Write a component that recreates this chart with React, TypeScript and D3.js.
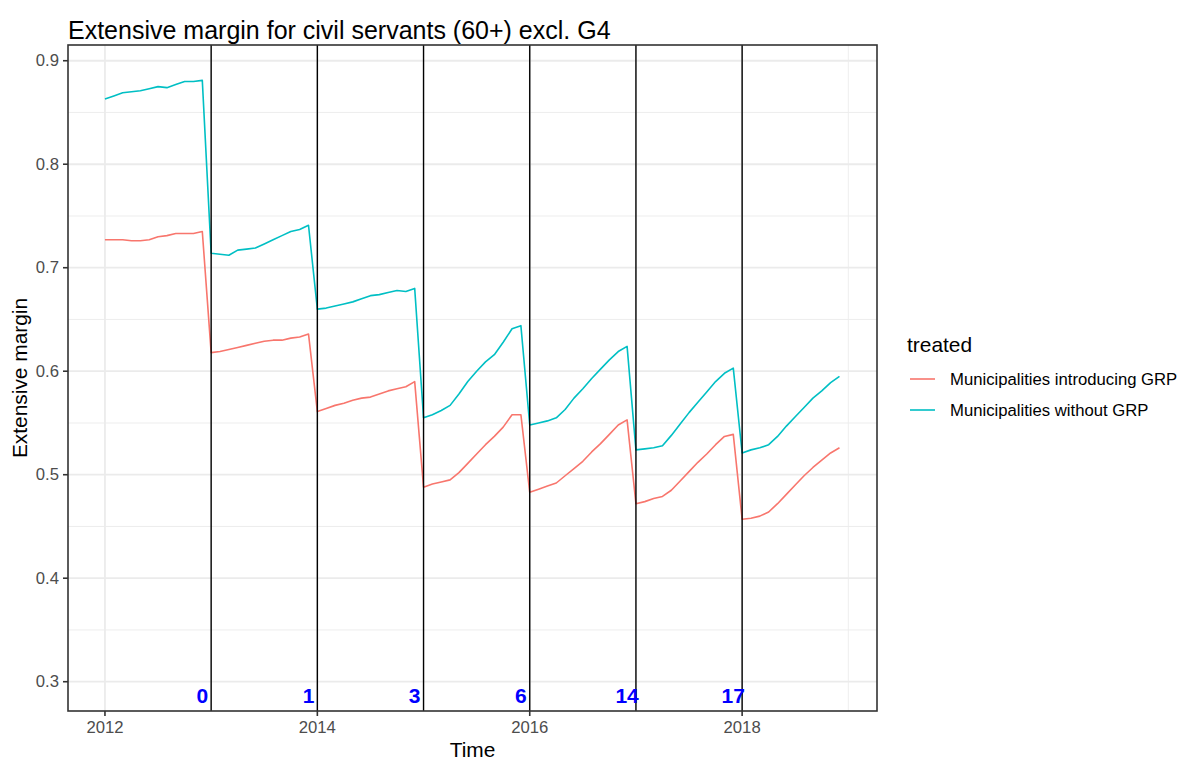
import React from "react";
import * as d3 from "d3";

const years = [2012, 2013, 2014, 2015, 2016, 2017, 2018];
const seriesNames = ["Municipalities introducing GRP", "Municipalities without GRP"];
const seriesColors = ["#F8766D", "#00BFC4"];

// monthly values, Jan..Dec per year
const introducing = [
  [0.727, 0.727, 0.727, 0.726, 0.726, 0.727, 0.730, 0.731, 0.733, 0.733, 0.733, 0.735],
  [0.618, 0.619, 0.621, 0.623, 0.625, 0.627, 0.629, 0.630, 0.630, 0.632, 0.633, 0.636],
  [0.561, 0.564, 0.567, 0.569, 0.572, 0.574, 0.575, 0.578, 0.581, 0.583, 0.585, 0.590],
  [0.488, 0.491, 0.493, 0.495, 0.502, 0.511, 0.520, 0.529, 0.537, 0.546, 0.558, 0.558],
  [0.483, 0.486, 0.489, 0.492, 0.499, 0.506, 0.513, 0.522, 0.530, 0.539, 0.548, 0.553],
  [0.472, 0.474, 0.477, 0.479, 0.485, 0.494, 0.503, 0.512, 0.520, 0.529, 0.537, 0.539],
  [0.457, 0.458, 0.460, 0.464, 0.472, 0.481, 0.490, 0.499, 0.507, 0.514, 0.521, 0.526],
];
const without = [
  [0.863, 0.866, 0.869, 0.870, 0.871, 0.873, 0.875, 0.874, 0.877, 0.880, 0.880, 0.881],
  [0.714, 0.713, 0.712, 0.717, 0.718, 0.719, 0.723, 0.727, 0.731, 0.735, 0.737, 0.741],
  [0.660, 0.661, 0.663, 0.665, 0.667, 0.670, 0.673, 0.674, 0.676, 0.678, 0.677, 0.680],
  [0.555, 0.558, 0.562, 0.567, 0.578, 0.590, 0.600, 0.609, 0.616, 0.628, 0.641, 0.644],
  [0.548, 0.550, 0.552, 0.555, 0.563, 0.574, 0.583, 0.593, 0.602, 0.611, 0.619, 0.624],
  [0.524, 0.525, 0.526, 0.528, 0.538, 0.549, 0.560, 0.570, 0.580, 0.590, 0.598, 0.603],
  [0.521, 0.524, 0.526, 0.529, 0.537, 0.547, 0.556, 0.565, 0.574, 0.581, 0.589, 0.595],
];

const vlineYears = [2013, 2014, 2015, 2016, 2017, 2018];
const vlineLabels = ["0", "1", "3", "6", "14", "17"];
const labelY = 0.287;

const xTicks = [2012, 2014, 2016, 2018];
const xMinor = [2013, 2015, 2017, 2019];
const yTicks = [0.3, 0.4, 0.5, 0.6, 0.7, 0.8, 0.9];
const yMinor = [0.35, 0.45, 0.55, 0.65, 0.75, 0.85];

const W = 1184, H = 761;
const P = { left: 68, right: 877, top: 45, bottom: 711 };
const FONT = "'Liberation Sans', Arial, sans-serif";

export default function App() {
  const x = d3.scaleLinear().domain([2011.652, 2019.27]).range([P.left, P.right]);
  const y = d3.scaleLinear().domain([0.2717, 0.9152]).range([P.bottom, P.top]);

  const toPoints = (vals: number[][]) =>
    years.flatMap((yr, i) => vals[i].map((v, m) => ({ t: yr + m / 12, v })));
  const data = [toPoints(introducing), toPoints(without)];
  const line = d3.line<{ t: number; v: number }>().x(d => x(d.t)).y(d => y(d.v));

  const gridMajor = "#EBEBEB";
  return (
    <svg width={W} height={H} style={{ position: "absolute", left: 0, top: 0, background: "#fff" }} fontFamily={FONT}>
      <rect x={0} y={0} width={W} height={H} fill="#fff" />
      <g>
        {yMinor.map(v => (
          <line key={"ym" + v} x1={P.left} x2={P.right} y1={y(v)} y2={y(v)} stroke={gridMajor} strokeWidth={0.9} />
        ))}
        {xMinor.map(v => (
          <line key={"xm" + v} y1={P.top} y2={P.bottom} x1={x(v)} x2={x(v)} stroke={gridMajor} strokeWidth={0.9} />
        ))}
        {yTicks.map(v => (
          <line key={"yg" + v} x1={P.left} x2={P.right} y1={y(v)} y2={y(v)} stroke={gridMajor} strokeWidth={1.8} />
        ))}
        {xTicks.map(v => (
          <line key={"xg" + v} y1={P.top} y2={P.bottom} x1={x(v)} x2={x(v)} stroke={gridMajor} strokeWidth={1.8} />
        ))}
      </g>
      {data.map((d, i) => (
        <path key={i} d={line(d) || ""} fill="none" stroke={seriesColors[i]} strokeWidth={1.6} strokeLinejoin="round" />
      ))}
      {vlineYears.map(v => (
        <line key={"vl" + v} y1={P.top} y2={P.bottom} x1={x(v)} x2={x(v)} stroke="#000" strokeWidth={1.4} />
      ))}
      {vlineYears.map((v, i) => (
        <text key={"lb" + v} x={x(v - 1 / 12)} y={y(labelY)} fill="#0000FF" fontWeight="bold" fontSize={21}
          textAnchor="middle" dominantBaseline="central">{vlineLabels[i]}</text>
      ))}
      <rect x={P.left} y={P.top} width={P.right - P.left} height={P.bottom - P.top} fill="none" stroke="#333333" strokeWidth={1.6} />
      {/* y axis */}
      {yTicks.map(v => (
        <g key={"yt" + v}>
          <line x1={P.left - 5} x2={P.left} y1={y(v)} y2={y(v)} stroke="#333333" strokeWidth={1.6} />
          <text x={P.left - 9} y={y(v)} dominantBaseline="central" textAnchor="end" fontSize={16.7} fill="#4D4D4D">{v.toFixed(1)}</text>
        </g>
      ))}
      {xTicks.map(v => (
        <g key={"xt" + v}>
          <line y1={P.bottom} y2={P.bottom + 5} x1={x(v)} x2={x(v)} stroke="#333333" strokeWidth={1.6} />
          <text x={x(v)} y={P.bottom + 22} textAnchor="middle" fontSize={16.7} fill="#4D4D4D">{v}</text>
        </g>
      ))}
      <text x={(P.left + P.right) / 2} y={757} textAnchor="middle" fontSize={20.9} fill="#000">Time</text>
      <text transform={`translate(27,${(P.top + P.bottom) / 2}) rotate(-90)`} textAnchor="middle" fontSize={20.9} fill="#000">Extensive margin</text>
      <text x={P.left} y={39} fontSize={25} fill="#000">Extensive margin for civil servants (60+) excl. G4</text>
      {/* legend */}
      <text x={907} y={352} fontSize={20.9} fill="#000">treated</text>
      {seriesNames.map((s, i) => (
        <g key={s} transform={`translate(0,${379 + i * 31})`}>
          <line x1={910} x2={935} y1={0} y2={0} stroke={seriesColors[i]} strokeWidth={1.6} />
          <text x={950} y={0} dominantBaseline="central" fontSize={16.7} fill="#000">{s}</text>
        </g>
      ))}
    </svg>
  );
}
